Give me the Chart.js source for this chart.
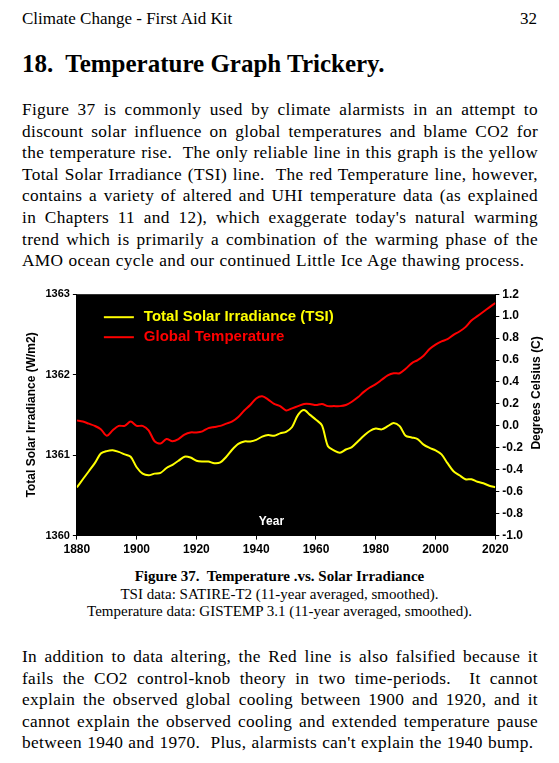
<!DOCTYPE html>
<html><head><meta charset="utf-8">
<script src="https://cdn.jsdelivr.net/npm/chart.js@4"></script>
<style>
body{margin:0;background:#fff;font-family:"Liberation Serif","Times New Roman",serif;color:#000;}
.page{position:relative;width:559px;height:763px;}
.hdr{position:absolute;top:9px;left:22px;right:22px;font-size:17px;}
.hdr span{float:right}
h1{position:absolute;top:50px;left:22px;margin:0;font-size:25px;font-weight:bold;}
p{margin:0;position:absolute;left:22px;width:516px;font-size:17.3px;letter-spacing:0.35px;word-spacing:0.5px;line-height:21.6px;text-align:justify;}
#wrap{position:absolute;left:14px;top:284px;width:532px;height:276px;}
.cap{position:absolute;top:568px;left:0;width:559px;text-align:center;font-size:15px;line-height:17.5px;}
</style></head><body><div class="page">
<div class="hdr">Climate Change - First Aid Kit<span>32</span></div>
<h1>18.&nbsp; Temperature Graph Trickery.</h1>
<p style="top:99px">Figure 37 is commonly used by climate alarmists in an attempt to discount solar influence on global temperatures and blame CO2 for the temperature rise.&nbsp; The only reliable line in this graph is the yellow Total Solar Irradiance (TSI) line.&nbsp; The red Temperature line, however, contains a variety of altered and UHI temperature data (as explained in Chapters 11 and 12), which exaggerate today's natural warming trend which is primarily a combination of the warming phase of the AMO ocean cycle and our continued Little Ice Age thawing process.</p>
<div id="wrap"><canvas id="c"></canvas></div>
<div class="cap"><b>Figure 37.&nbsp; Temperature .vs. Solar Irradiance</b><br>TSI data: SATIRE-T2 (11-year averaged, smoothed).<br>Temperature data: GISTEMP 3.1 (11-year averaged, smoothed).</div>
<p style="top:646px">In addition to data altering, the Red line is also falsified because it fails the CO2 control-knob theory in two time-periods.&nbsp; It cannot explain the observed global cooling between 1900 and 1920, and it cannot explain the observed cooling and extended temperature pause between 1940 and 1970.&nbsp; Plus, alarmists can't explain the 1940 bump.</p>
</div>
<script>
const years=[];for(let y=1880;y<=2020;y+=2)years.push(y);
const tsi=[1360.6,1360.7,1360.8,1360.9,1361.02,1361.05,1361.06,1361.04,1361.01,1360.98,1360.85,1360.77,1360.75,1360.77,1360.78,1360.84,1360.88,1360.93,1360.98,1360.97,1360.93,1360.92,1360.92,1360.9,1360.91,1360.98,1361.07,1361.14,1361.17,1361.17,1361.19,1361.23,1361.25,1361.24,1361.27,1361.29,1361.35,1361.5,1361.56,1361.5,1361.44,1361.37,1361.11,1361.06,1361.03,1361.07,1361.1,1361.17,1361.24,1361.3,1361.33,1361.32,1361.36,1361.4,1361.36,1361.24,1361.22,1361.2,1361.13,1361.09,1361.06,1361.01,1360.9,1360.8,1360.75,1360.7,1360.7,1360.67,1360.65,1360.62,1360.6];
const temp=[0.05,0.04,0.02,0.0,-0.03,-0.09,-0.04,0.0,0.0,0.04,0.0,0.0,-0.04,-0.14,-0.16,-0.12,-0.14,-0.12,-0.08,-0.06,-0.06,-0.05,-0.02,-0.01,0.0,0.02,0.04,0.08,0.14,0.19,0.25,0.27,0.24,0.2,0.18,0.14,0.16,0.18,0.2,0.2,0.19,0.2,0.18,0.18,0.18,0.19,0.22,0.26,0.31,0.35,0.38,0.42,0.46,0.48,0.48,0.52,0.57,0.6,0.64,0.7,0.74,0.77,0.79,0.83,0.86,0.9,0.96,1.0,1.04,1.08,1.12];
const seriesNames=["Total Solar Irradiance (TSI)","Global Temperature"];
const rightTitle='Degrees Celsius (C)';
const F='"Liberation Sans",Arial,sans-serif';
const bg={id:'bg',beforeDraw(c){const a=c.chartArea,x=c.ctx;x.save();x.fillStyle='#000';x.fillRect(a.left,a.top,a.right-a.left,a.bottom-a.top);x.restore();},
afterDraw(c){const a=c.chartArea,x=c.ctx;x.save();x.font='bold 15px '+F;x.textBaseline='middle';
const cols=['#ffff00','#ff0000'];
seriesNames.forEach((n,i)=>{const yy=a.top+23+i*20;x.strokeStyle=cols[i];x.lineWidth=2;x.beginPath();x.moveTo(a.left+27,yy);x.lineTo(a.left+57,yy);x.stroke();x.fillStyle=cols[i];x.fillText(n,a.left+67,yy);});
x.font='bold 12px '+F;x.fillStyle='#fff';x.textAlign='center';x.fillText('Year',a.left+(a.right-a.left)*0.465,a.bottom-14);
x.fillStyle='#000';x.font='bold 12px '+F;x.translate(c.width/(window.devicePixelRatio||1)-9,(a.top+a.bottom)/2-22);x.rotate(-Math.PI/2);x.fillText(rightTitle,0,0);x.restore();}};
new Chart(document.getElementById('c'),{type:'line',
data:{datasets:[
{label:seriesNames[0],data:years.map((y,i)=>({x:y,y:tsi[i]})),borderColor:'#ffff00',borderWidth:2,pointRadius:0,yAxisID:'y',tension:0.3},
{label:seriesNames[1],data:years.map((y,i)=>({x:y,y:temp[i]})),borderColor:'#ff0000',borderWidth:2,pointRadius:0,yAxisID:'y1',tension:0.3}]},
options:{responsive:true,maintainAspectRatio:false,animation:false,layout:{padding:{top:8,right:20,left:6,bottom:0}},
plugins:{legend:{display:false},tooltip:{enabled:false}},
scales:{
x:{type:'linear',min:1880,max:2020,border:{color:'#000'},grid:{drawOnChartArea:false,color:'#000',tickLength:4},ticks:{stepSize:20,color:'#000',font:{family:F,size:12,weight:'bold'},maxRotation:0,callback:v=>String(v)}},
y:{position:'left',min:1360,max:1363,border:{color:'#000'},grid:{drawOnChartArea:false,color:'#000',tickLength:4},ticks:{stepSize:1,color:'#000',font:{family:F,size:11,weight:'bold'},callback:v=>String(v)},title:{display:true,text:'Total Solar Irradiance (W/m2)',color:'#000',font:{family:F,size:12,weight:'bold'},padding:4}},
y1:{position:'right',min:-1,max:1.2,border:{color:'#000'},grid:{drawOnChartArea:false,color:'#000',tickLength:4},ticks:{stepSize:0.2,color:'#000',font:{family:F,size:12,weight:'bold'},callback:v=>v.toFixed(1)}}}},
plugins:[bg]});
</script></body></html>
